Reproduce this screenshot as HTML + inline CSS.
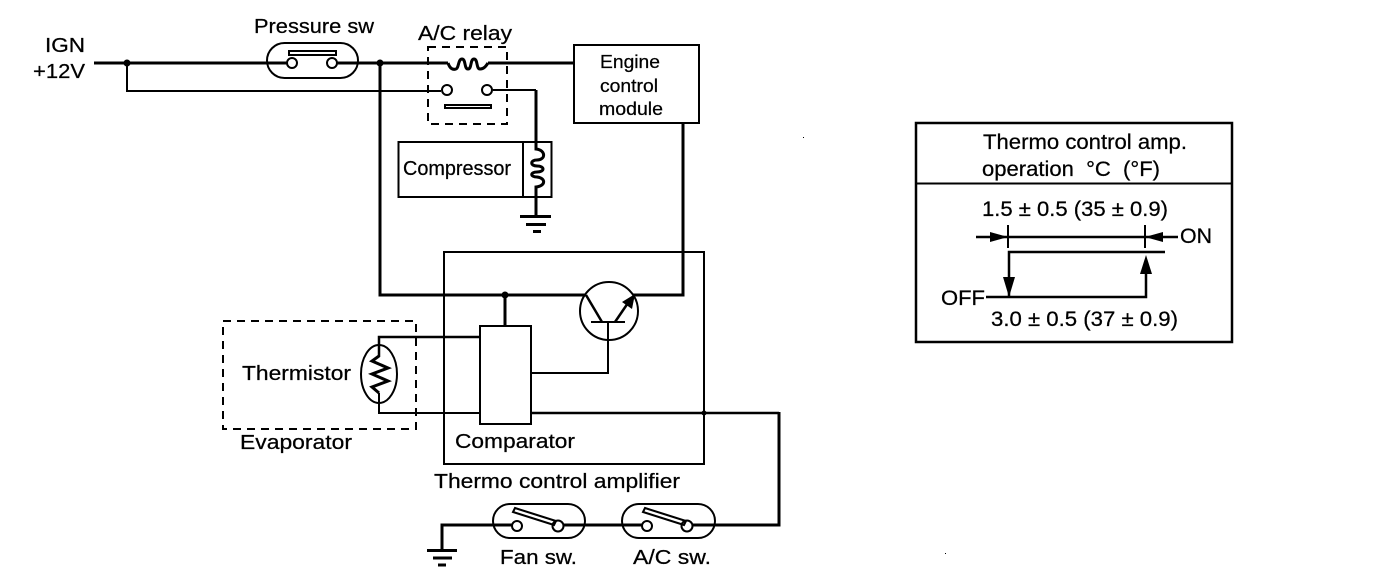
<!DOCTYPE html>
<html>
<head>
<meta charset="utf-8">
<style>
html,body{margin:0;padding:0;background:#fff;width:1376px;height:584px;overflow:hidden}
svg{display:block}
text{font-family:"Liberation Sans",sans-serif;font-size:20px;fill:#000;stroke:#000;stroke-width:.25}
.b{font-size:21px}
.t{stroke:#000;stroke-width:3;fill:none;stroke-linejoin:miter}
.m{stroke:#000;stroke-width:2;fill:none}
.d{stroke:#000;stroke-width:2;fill:none;stroke-dasharray:8 6}
.c{stroke:#000;stroke-width:2;fill:#fff}
</style>
</head>
<body>
<svg width="1376" height="584" viewBox="0 0 1376 584" xmlns="http://www.w3.org/2000/svg">
<!-- top wires -->
<path class="t" d="M94 63H267M358 63H448M488 63H573"/>
<path class="m" d="M127 63V91H441"/>
<path class="t" d="M380 63V295H586"/>
<path class="m" d="M493 90H536"/>
<path class="t" d="M536 90V142"/>
<circle cx="127" cy="63" r="3.500"/>
<circle cx="380" cy="63" r="3.500"/>
<!-- Pressure sw -->
<rect class="m" x="267" y="43" width="91" height="35" rx="17.500"/>
<path class="t" d="M267 63H287M337 63H358"/>
<circle class="c" cx="292" cy="63" r="5"/>
<circle class="c" cx="332" cy="63" r="5"/>
<rect class="m" x="289" y="51" width="47" height="4"/>
<!-- relay -->
<rect class="d" x="428" y="47" width="79" height="77"/>
<path class="t" d="M448 63C450 69 453 70 456 69C459 68 458 59 462 59C466 59 464 69 468 69C472 69 470 59 474 59C478 59 476 69 480 69C484 69 486 66 488 63"/>
<circle class="c" cx="447" cy="90" r="5"/>
<circle class="c" cx="487" cy="90" r="5"/>
<rect class="m" x="445" y="105" width="46" height="3"/>
<!-- ECM -->
<rect class="m" x="574" y="45" width="125" height="78"/>
<path class="t" d="M683 123V295H633"/>
<!-- compressor -->
<rect class="m" x="398.500" y="142" width="153" height="55"/>
<path class="m" d="M523 142V197"/>
<path class="t" d="M536 142V149C546 150 546 160 537 160C530 160 530 166 537 166C545 166 545 172 537 172C530 172 530 177 537 177C546 178 546 186 536 187V216"/>
<path class="t" d="M520 216.500H551"/>
<path class="t" d="M526 224.500H546"/>
<path class="t" d="M533 231.500H541"/>
<!-- amplifier box -->
<rect class="m" x="444" y="252" width="260" height="212"/>
<circle cx="505" cy="295" r="3.500"/>
<path class="t" d="M505 295V326"/>
<rect class="m" x="480" y="326" width="51" height="98"/>
<!-- thermistor -->
<rect class="d" x="223" y="321" width="193" height="108"/>
<path class="t" d="M480 337H379V357" style="stroke-width:2.500"/>
<path class="m" d="M379 393V413H480"/>
<ellipse class="m" cx="379" cy="374" rx="18" ry="29"/>
<path class="t" d="M379 356L372 361L388 368L372 374L388 381L372 387L379 393"/>
<!-- transistor -->
<circle class="m" cx="609" cy="311" r="29"/>
<path class="m" d="M591 322H625"/>
<path class="t" d="M586 295L602 322" style="stroke-width:2.500"/>
<path class="t" d="M615 322L630 300" style="stroke-width:2.500"/>
<path d="M635 294L632 309L622 302Z"/>
<path class="m" d="M608 322V373H531"/>
<!-- output -->
<path class="m" d="M531 413H779" style="stroke-width:2.500"/>
<path class="t" d="M779 412V525H715"/>
<circle cx="704" cy="413" r="2.500"/>
<!-- bottom switches -->
<path class="t" d="M493 525H442V550M585 525H622"/>
<path class="t" d="M427 550.500H457"/>
<path class="t" d="M433 558H452"/>
<path class="t" d="M438 565H446"/>
<rect class="m" x="493" y="504" width="92" height="34" rx="17"/>
<rect class="m" x="622" y="504" width="93" height="34" rx="17"/>
<path class="t" d="M493 525H512M563 525H585M622 525H642M692 525H715"/>
<circle class="c" cx="517" cy="526" r="5"/>
<circle class="c" cx="558" cy="526" r="5.500"/>
<circle class="c" cx="647" cy="526" r="5"/>
<circle class="c" cx="687" cy="526" r="5.500"/>
<path class="m" d="M515 508L556 521L554 525L513 512Z"/>
<path class="m" d="M645 508L686 521L684 525L643 512Z"/>
<!-- table -->
<rect class="t" x="916" y="123" width="316" height="219" style="stroke-width:2.500"/>
<path class="m" d="M915 183.500H1233"/>
<path class="m" d="M976 237H1178" style="stroke-width:2.500"/>
<path class="m" d="M1008 225V248M1145 225V248"/>
<path d="M1008 237L990 232V242Z"/>
<path d="M1145 237L1163 232V242Z"/>
<path class="t" d="M1165 252H1009V297" style="stroke-width:2.500"/>
<path class="t" d="M986 297H1146V270" style="stroke-width:2.500"/>
<path d="M1009 297L1003 277H1015Z"/>
<path d="M1146 255L1140 274H1152Z"/>
<!-- specks -->
<rect x="803" y="137" width="1" height="1"/>
<rect x="945" y="553" width="1" height="1"/>
<!-- labels -->
<text x="45" y="52" textLength="40" lengthAdjust="spacingAndGlyphs">IGN</text>
<text x="33" y="78" textLength="52" lengthAdjust="spacingAndGlyphs">+12V</text>
<text x="254" y="33" textLength="120" lengthAdjust="spacingAndGlyphs">Pressure sw</text>
<text x="418" y="40" textLength="94" lengthAdjust="spacingAndGlyphs">A/C relay</text>
<text x="600" y="68" textLength="60" lengthAdjust="spacingAndGlyphs" style="font-size:18px">Engine</text>
<text x="600" y="92" textLength="58" lengthAdjust="spacingAndGlyphs" style="font-size:18px">control</text>
<text x="599" y="115" textLength="64" lengthAdjust="spacingAndGlyphs" style="font-size:18px">module</text>
<text x="403" y="175" textLength="108" lengthAdjust="spacingAndGlyphs">Compressor</text>
<text x="242" y="380" textLength="109" lengthAdjust="spacingAndGlyphs">Thermistor</text>
<text x="240" y="449" textLength="112" lengthAdjust="spacingAndGlyphs">Evaporator</text>
<text x="455" y="448" textLength="120" lengthAdjust="spacingAndGlyphs">Comparator</text>
<text x="434" y="488" textLength="246" lengthAdjust="spacingAndGlyphs">Thermo control amplifier</text>
<text x="500" y="564" textLength="77" lengthAdjust="spacingAndGlyphs">Fan sw.</text>
<text x="633" y="564" textLength="78" lengthAdjust="spacingAndGlyphs">A/C sw.</text>
<text class="b" x="983" y="149" textLength="204" lengthAdjust="spacingAndGlyphs">Thermo control amp.</text>
<text class="b" x="982" y="176" textLength="178" lengthAdjust="spacingAndGlyphs" xml:space="preserve">operation  °C  (°F)</text>
<text class="b" x="982" y="216" textLength="186" lengthAdjust="spacingAndGlyphs">1.5 ± 0.5 (35 ± 0.9)</text>
<text class="b" x="1180" y="243" textLength="32" lengthAdjust="spacingAndGlyphs">ON</text>
<text class="b" x="941" y="305" textLength="44" lengthAdjust="spacingAndGlyphs">OFF</text>
<text class="b" x="991" y="326" textLength="187" lengthAdjust="spacingAndGlyphs">3.0 ± 0.5 (37 ± 0.9)</text>
</svg>
</body>
</html>
